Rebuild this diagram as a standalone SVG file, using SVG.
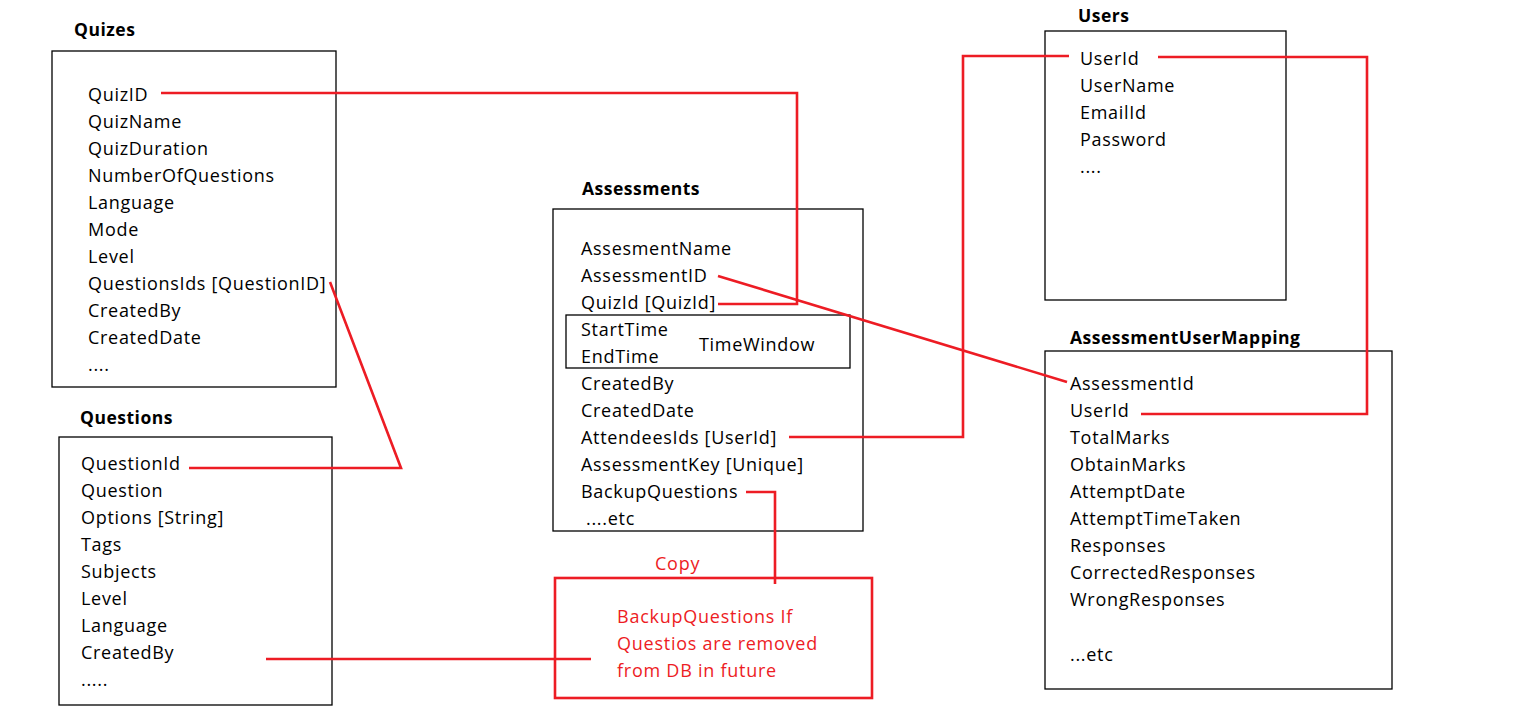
<svg xmlns="http://www.w3.org/2000/svg" width="1514" height="726" viewBox="0 0 1514 726">
<style>
.box{fill:none;stroke:#000;stroke-width:1.3}
.t{font-family:"Open Sans","Liberation Sans",sans-serif;font-size:18px;letter-spacing:0.7px;fill:#000}
.h{font-family:"Open Sans","Liberation Sans",sans-serif;font-size:17.5px;letter-spacing:0.5px;font-weight:bold;fill:#000}
.r{font-family:"Open Sans","Liberation Sans",sans-serif;font-size:18px;letter-spacing:0.75px;fill:#ed1c24}
.c{fill:none;stroke:#ed1c24;stroke-width:2.6}
</style>
<rect width="1514" height="726" fill="#fff"/>
<g id="quizes">
<text class="h" x="74" y="36">Quizes</text>
<rect class="box" x="52" y="51" width="284" height="336"/>
<text class="t" x="88" y="101">QuizID</text>
<text class="t" x="88" y="128">QuizName</text>
<text class="t" x="88" y="155">QuizDuration</text>
<text class="t" x="88" y="182">NumberOfQuestions</text>
<text class="t" x="88" y="209">Language</text>
<text class="t" x="88" y="236">Mode</text>
<text class="t" x="88" y="263">Level</text>
<text class="t" x="88" y="290">QuestionsIds [QuestionID]</text>
<text class="t" x="88" y="317">CreatedBy</text>
<text class="t" x="88" y="344">CreatedDate</text>
<text class="t" x="88" y="371">....</text>
</g>
<g id="questions">
<text class="h" x="80" y="424">Questions</text>
<rect class="box" x="59" y="437" width="273" height="268"/>
<text class="t" x="81" y="470">QuestionId</text>
<text class="t" x="81" y="497">Question</text>
<text class="t" x="81" y="524">Options [String]</text>
<text class="t" x="81" y="551">Tags</text>
<text class="t" x="81" y="578">Subjects</text>
<text class="t" x="81" y="605">Level</text>
<text class="t" x="81" y="632">Language</text>
<text class="t" x="81" y="659">CreatedBy</text>
<text class="t" x="81" y="686">.....</text>
</g>
<g id="assessments">
<text class="h" x="582" y="195">Assessments</text>
<rect class="box" x="553" y="209" width="310" height="322"/>
<text class="t" x="581" y="255">AssesmentName</text>
<text class="t" x="581" y="282">AssessmentID</text>
<text class="t" x="581" y="309">QuizId [QuizId]</text>
<rect class="box" x="566" y="315" width="284" height="53"/>
<text class="t" x="581" y="336">StartTime</text>
<text class="t" x="581" y="363">EndTime</text>
<text class="t" x="699" y="351">TimeWindow</text>
<text class="t" x="581" y="390">CreatedBy</text>
<text class="t" x="581" y="417">CreatedDate</text>
<text class="t" x="581" y="444">AttendeesIds [UserId]</text>
<text class="t" x="581" y="471">AssessmentKey [Unique]</text>
<text class="t" x="581" y="498">BackupQuestions</text>
<text class="t" x="586" y="525">....etc</text>
</g>
<g id="users">
<text class="h" x="1078" y="22">Users</text>
<rect class="box" x="1045" y="31" width="241" height="269"/>
<text class="t" x="1080" y="65">UserId</text>
<text class="t" x="1080" y="92">UserName</text>
<text class="t" x="1080" y="119">EmailId</text>
<text class="t" x="1080" y="146">Password</text>
<text class="t" x="1080" y="173">....</text>
</g>
<g id="assessmentUserMapping">
<text class="h" x="1070" y="344">AssessmentUserMapping</text>
<rect class="box" x="1045" y="351" width="347" height="338"/>
<text class="t" x="1070" y="390">AssessmentId</text>
<text class="t" x="1070" y="417">UserId</text>
<text class="t" x="1070" y="444">TotalMarks</text>
<text class="t" x="1070" y="471">ObtainMarks</text>
<text class="t" x="1070" y="498">AttemptDate</text>
<text class="t" x="1070" y="525">AttemptTimeTaken</text>
<text class="t" x="1070" y="552">Responses</text>
<text class="t" x="1070" y="579">CorrectedResponses</text>
<text class="t" x="1070" y="606">WrongResponses</text>
<text class="t" x="1070" y="661">...etc</text>
</g>
<g id="backupNote">
<text class="r" x="655" y="570">Copy</text>
<rect x="555" y="578" width="317" height="120" fill="none" stroke="#ed1c24" stroke-width="2.6"/>
<text class="r" x="617" y="623">BackupQuestions If</text>
<text class="r" x="617" y="650">Questios are removed</text>
<text class="r" x="617" y="677">from DB in future</text>
</g>
<g id="connectors">
<path class="c" d="M161 93 H797 V304 H718"/>
<path class="c" d="M330 282 L401 468 H189"/>
<path class="c" d="M718 276 L1067 382"/>
<path class="c" d="M789 437 H963 V56 H1069"/>
<path class="c" d="M1158 57 H1367 V414 H1141"/>
<path class="c" d="M746 492 H775 V584"/>
<path class="c" d="M266 659 H591"/>
</g>
</svg>
